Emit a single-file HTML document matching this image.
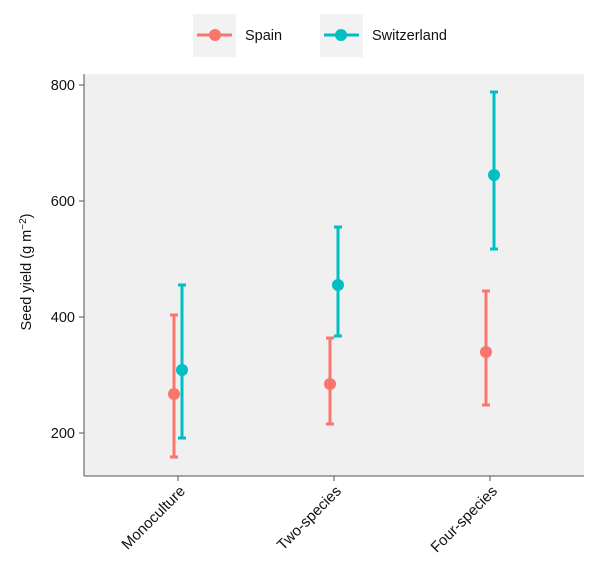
<!DOCTYPE html>
<html><head><style>body{margin:0;background:#fff}svg{display:block}text{font-family:"Liberation Sans",sans-serif;fill:#111}</style></head>
<body>
<svg width="600" height="566" viewBox="0 0 600 566">
<rect x="193" y="14" width="43" height="43" fill="#f2f2f2"/>
<line x1="197" y1="35" x2="232" y2="35" stroke="#F8766D" stroke-width="3"/>
<circle cx="215" cy="35" r="6" fill="#F8766D"/>
<text x="245" y="40" font-size="14.5">Spain</text>
<rect x="320" y="14" width="43" height="43" fill="#f2f2f2"/>
<line x1="324" y1="35" x2="359" y2="35" stroke="#00BFC4" stroke-width="3"/>
<circle cx="341" cy="35" r="6" fill="#00BFC4"/>
<text x="372" y="40" font-size="14.5">Switzerland</text>

<rect x="84" y="74" width="500" height="402" fill="#f0f0f0"/>
<line x1="84" y1="74" x2="84" y2="476" stroke="#555" stroke-width="1"/>
<line x1="84" y1="476" x2="584" y2="476" stroke="#555" stroke-width="1"/>
<g stroke="#555">
<line x1="79" y1="85" x2="84" y2="85"/><line x1="79" y1="201" x2="84" y2="201"/>
<line x1="79" y1="317" x2="84" y2="317"/><line x1="79" y1="433" x2="84" y2="433"/>
<line x1="178" y1="476" x2="178" y2="481"/><line x1="334" y1="476" x2="334" y2="481"/><line x1="490" y1="476" x2="490" y2="481"/>
</g>
<g font-size="14.5" text-anchor="end">
<text x="75" y="90">800</text><text x="75" y="206">600</text><text x="75" y="322">400</text><text x="75" y="438">200</text>
</g>
<text transform="translate(31,272) rotate(-90)" font-size="14.5" text-anchor="middle">Seed yield (g m<tspan dy="-5" font-size="10">−2</tspan><tspan dy="5">)</tspan></text>
<g font-size="15" text-anchor="end">
<text transform="translate(186,492) rotate(-45)">Monoculture</text>
<text transform="translate(342,492) rotate(-45)">Two-species</text>
<text transform="translate(498,492) rotate(-45)">Four-species</text>
</g>
<g stroke="#F8766D" stroke-width="3" fill="#F8766D">
<line x1="174" y1="315" x2="174" y2="457"/><line x1="170" y1="315" x2="178" y2="315"/><line x1="170" y1="457" x2="178" y2="457"/>
<circle cx="174" cy="394" r="6" stroke="none"/>
<line x1="330" y1="338" x2="330" y2="424"/><line x1="326" y1="338" x2="334" y2="338"/><line x1="326" y1="424" x2="334" y2="424"/>
<circle cx="330" cy="384" r="6" stroke="none"/>
<line x1="486" y1="291" x2="486" y2="405"/><line x1="482" y1="291" x2="490" y2="291"/><line x1="482" y1="405" x2="490" y2="405"/>
<circle cx="486" cy="352" r="6" stroke="none"/>
</g>
<g stroke="#00BFC4" stroke-width="3" fill="#00BFC4">
<line x1="182" y1="285" x2="182" y2="438"/><line x1="178" y1="285" x2="186" y2="285"/><line x1="178" y1="438" x2="186" y2="438"/>
<circle cx="182" cy="370" r="6" stroke="none"/>
<line x1="338" y1="227" x2="338" y2="336"/><line x1="334" y1="227" x2="342" y2="227"/><line x1="334" y1="336" x2="342" y2="336"/>
<circle cx="338" cy="285" r="6" stroke="none"/>
<line x1="494" y1="92" x2="494" y2="249"/><line x1="490" y1="92" x2="498" y2="92"/><line x1="490" y1="249" x2="498" y2="249"/>
<circle cx="494" cy="175" r="6" stroke="none"/>
</g>
</svg>
</body></html>
